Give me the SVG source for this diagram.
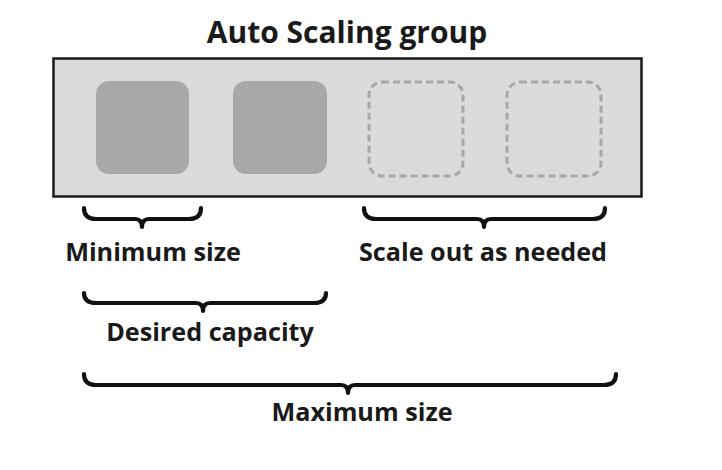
<svg xmlns="http://www.w3.org/2000/svg" width="722" height="470" viewBox="0 0 722 470">
<style>
.t{font-family:"Open Sans","Liberation Sans",sans-serif;font-weight:bold;fill:#1a1a1a;text-anchor:middle}
.inst{fill:#a8a8a8}
.dash{fill:none;stroke:#a8a8a8;stroke-width:3;stroke-dasharray:7,4}
.br{fill:none;stroke:#111;stroke-width:4.2;stroke-linecap:round;stroke-linejoin:round}
</style>
<rect width="722" height="470" fill="#fff"/>
<g id="group">
<rect x="53.5" y="58.5" width="588" height="138" fill="#dcdadd" stroke="#1a1a1a" stroke-width="2.5"/>
<text class="t" x="347" y="43" font-size="30">Auto Scaling group</text>
</g>
<g id="inst1"><rect class="inst" x="96" y="81" width="93" height="93" rx="13"/></g>
<g id="inst2"><rect class="inst" x="233" y="81" width="94" height="93" rx="13"/></g>
<g id="inst3"><rect class="dash" x="369" y="82" width="94" height="94" rx="13"/></g>
<g id="inst4"><rect class="dash" x="507" y="82" width="94" height="94" rx="13"/></g>
<g id="connectors">
<path class="br" d="M84,208 Q84,219 96,219 L135,219 Q142,219 142,227 Q142,219 149,219 L189,219 Q201,219 201,208"/>
<path class="br" d="M364,208 Q364,219 376,219 L477,219 Q484,219 484,227 Q484,219 491,219 L593,219 Q605,219 605,208"/>
<path class="br" d="M84,293 Q84,303 96,303 L196,303 Q203,303 203,311 Q203,303 210,303 L314,303 Q326,303 326,293"/>
<path class="br" d="M84,374 Q84,385 96,385 L341,385 Q348,385 348,393 Q348,385 355,385 L604,385 Q616,385 616,374"/>
</g>
<g id="labels">
<text class="t" x="153" y="261" font-size="25.2">Minimum size</text>
<text class="t" x="483" y="261" font-size="25.2">Scale out as needed</text>
<text class="t" x="210" y="341" font-size="25.2">Desired capacity</text>
<text class="t" x="362" y="421" font-size="25.2">Maximum size</text>
</g>
</svg>
